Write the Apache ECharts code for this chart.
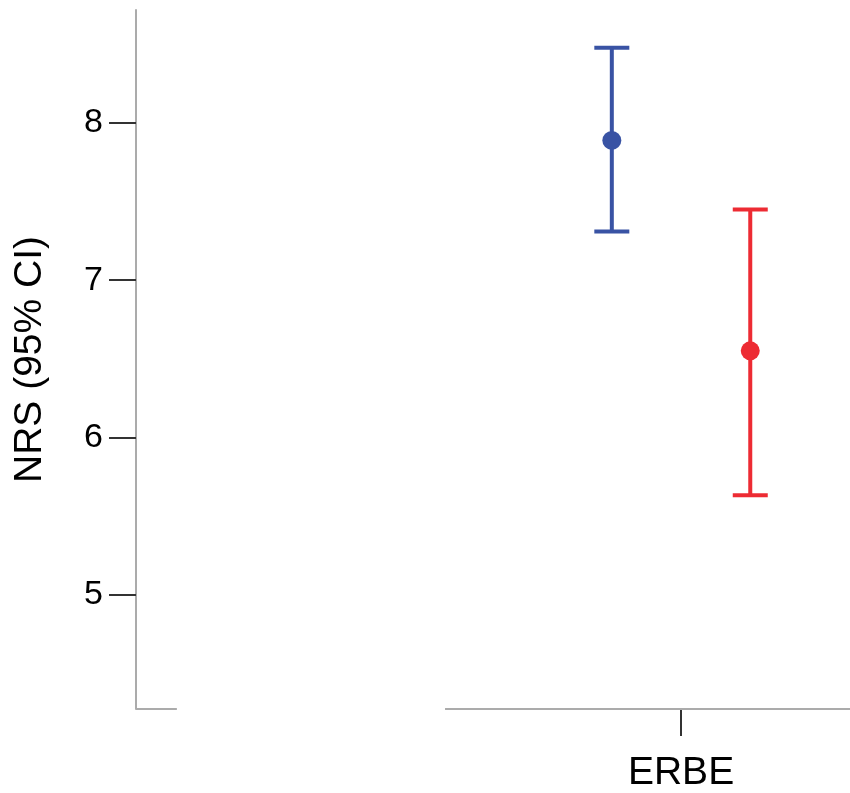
<!DOCTYPE html>
<html>
<head>
<meta charset="utf-8">
<script src="https://cdn.jsdelivr.net/npm/echarts@6/dist/echarts.min.js"></script>
<style>
  html, body { margin: 0; padding: 0; background: #fff; }
  #chart { width: 850px; height: 793px; }
</style>
</head>
<body>
<div id="chart"></div>
<script>
const categories = ["ERBE"];
const categoryX = [1];
const groups = ["Group 1", "Group 2"];
const groupColors = ["#3953a4", "#ed2b33"];
const means = [7.89, 6.55];
const lowerCI = [7.31, 5.63];
const upperCI = [8.48, 7.45];
const yTicks = [5, 6, 7, 8];

const axisGray = "#ababab";
const tickDark = "#333";
const groupOffset = 0.127; // x-axis units either side of the category

const myChart = echarts.init(document.getElementById("chart"));

function errorBarSeries(g) {
  const dx = (g === 0 ? -1 : 1) * groupOffset;
  return {
    name: groups[g],
    type: "custom",
    data: [[categoryX[0] + dx, lowerCI[g], means[g], upperCI[g]]],
    renderItem(params, api) {
      const lo = api.coord([api.value(0), api.value(1)]);
      const mid = api.coord([api.value(0), api.value(2)]);
      const hi = api.coord([api.value(0), api.value(3)]);
      const x = mid[0];
      const capHalf = 17.5;
      const line = { stroke: groupColors[g], lineWidth: 4 };
      return {
        type: "group",
        children: [
          { type: "line", shape: { x1: x, y1: lo[1], x2: x, y2: hi[1] }, style: line },
          { type: "line", shape: { x1: x - capHalf, y1: hi[1], x2: x + capHalf, y2: hi[1] }, style: line },
          { type: "line", shape: { x1: x - capHalf, y1: lo[1], x2: x + capHalf, y2: lo[1] }, style: line },
          { type: "circle", shape: { cx: x, cy: mid[1], r: 9.5 }, style: { fill: groupColors[g] } },
        ],
      };
    },
  };
}

// broken x-axis baseline, as in the source figure
const frameSeries = {
  type: "custom",
  silent: true,
  data: [[0, 0]],
  renderItem(params, api) {
    const cs = params.coordSys;
    const y = cs.y + cs.height;
    const gapStart = api.coord([0.075, 5])[0];
    const gapEnd = api.coord([0.567, 5])[0];
    const style = { stroke: axisGray, lineWidth: 2 };
    return {
      type: "group",
      children: [
        { type: "line", shape: { x1: cs.x, y1: y, x2: gapStart, y2: y }, style },
        { type: "line", shape: { x1: gapEnd, y1: y, x2: cs.x + cs.width, y2: y }, style },
      ],
    };
  },
};

myChart.setOption({
  animation: false,
  grid: { left: 136, top: 10, right: 0, bottom: 80 },
  xAxis: {
    type: "value",
    min: 0,
    max: 1.31,
    splitLine: { show: false },
    axisLine: { show: false },
    axisTick: {
      show: true,
      length: 27,
      customValues: categoryX,
      lineStyle: { color: tickDark, width: 2 },
    },
    axisLabel: {
      customValues: categoryX,
      formatter: (v) => categories[categoryX.indexOf(v)] || "",
      margin: 45,
      fontFamily: "Liberation Sans",
      fontSize: 39,
      color: "#000",
    },
  },
  yAxis: {
    type: "value",
    min: 4.27,
    max: 8.72,
    name: "NRS (95% CI)",
    nameLocation: "middle",
    nameGap: 86,
    nameTextStyle: { fontFamily: "Liberation Sans", fontSize: 39, color: "#000" },
    splitLine: { show: false },
    axisLine: { show: true, lineStyle: { color: axisGray, width: 2 } },
    axisTick: {
      show: true,
      length: 27,
      customValues: yTicks,
      lineStyle: { color: tickDark, width: 2 },
    },
    axisLabel: {
      customValues: yTicks,
      margin: 33,
      fontFamily: "Liberation Sans",
      fontSize: 34,
      color: "#000",
    },
  },
  series: [frameSeries, errorBarSeries(0), errorBarSeries(1)],
});
</script>
</body>
</html>
